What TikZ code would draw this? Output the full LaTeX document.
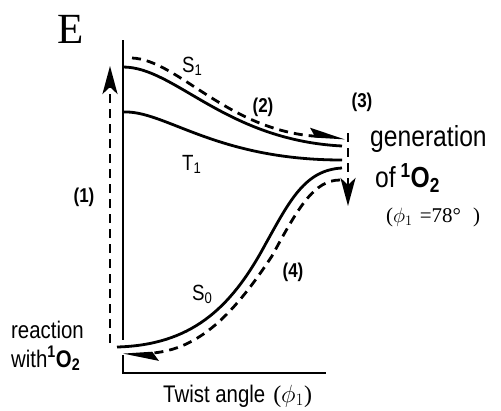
\documentclass[tikz,border=0pt]{standalone}
\usepackage{fontspec}
\newfontfamily\sfn[FakeStretch=0.85]{Liberation Sans}
\newfontfamily\rmn{Liberation Serif}
\usetikzlibrary{arrows.meta}
\begin{document}
\begin{tikzpicture}[x=1pt,y=-1pt,
  axisline/.style={line width=2.6pt},
  curve/.style={line width=2.8pt},
  dpath/.style={line width=2.8pt, dash pattern=on 9pt off 6pt},
  fulltip/.style={-{Stealth[length=28pt,width=15pt,inset=7pt]}},
  halftip/.style={-{Stealth[harpoon,length=30pt,width=16pt,inset=5pt]}},
  lab/.style={inner sep=0pt, font=\sfn\fontsize{22}{24}\selectfont},
  big/.style={inner sep=0pt, font=\sfn\fontsize{29}{31}\selectfont},
  mid/.style={inner sep=0pt, font=\sfn\fontsize{24}{26}\selectfont},
  num/.style={inner sep=0pt, font=\sfn\bfseries\fontsize{20}{22}\selectfont},
  ser/.style={inner sep=0pt, font=\rmn\fontsize{21}{23}\selectfont}]
\useasboundingbox (0,0) rectangle (501,410);

% axes
\coordinate (ytop) at (123,40);
\coordinate (ybrk1) at (123,340);
\coordinate (ybrk2) at (123,355);
\coordinate (orig) at (123,373);
\coordinate (xend) at (326,373);
\draw[axisline] (ytop) -- (ybrk1);
\draw[axisline] (ybrk2) -- (orig) -- (xend);

% curves
\coordinate (s1a) at (123,67);  \coordinate (s1b) at (342,146);
\coordinate (t1a) at (123,112); \coordinate (t1b) at (342,160);
\coordinate (s0a) at (117,347); \coordinate (s0m) at (265,245); \coordinate (s0b) at (342,168);
\draw[curve] (s1a) .. controls (175,67) and (225,140) .. (s1b);
\draw[curve] (t1a) .. controls (165,110) and (215,160) .. (t1b);
\draw[curve] (s0a) .. controls (190,345) and (230,310) .. (s0m)
                   .. controls (290,200) and (305,170) .. (s0b);

% dashed paths
\coordinate (d1a) at (110,343); \coordinate (d1b) at (110,66);
\draw[dpath, fulltip] (d1a) -- (d1b);
\coordinate (d2a) at (132,58); \coordinate (d2b) at (345,138);
\draw[dpath, halftip] (d2a) .. controls (178,60) and (228,131) .. (d2b);
\coordinate (d3a) at (348,133); \coordinate (d3b) at (348,206);
\draw[dpath, fulltip] (d3a) -- (d3b);
\coordinate (d4a) at (340,180); \coordinate (d4m) at (272,256); \coordinate (d4b) at (123,355);
\draw[dpath, halftip] (d4a) .. controls (314,180) and (298,208) .. (d4m)
                      .. controls (235,312) and (200,350) .. (d4b);

% labels
\node[inner sep=0pt, font=\rmn\fontsize{43}{45}\selectfont] (E) at (71,29) {E};
\node[lab, anchor=base west] (S1) at (182,72) {S\textsubscript{1}};
\node[lab, anchor=base west] (T1) at (182,170) {T\textsubscript{1}};
\node[lab, anchor=base west] (S0) at (192,300) {S\textsubscript{0}};
\node[num] (n1) at (84,197) {(1)};
\node[num] (n2) at (263,107) {(2)};
\node[num] (n3) at (362,102) {(3)};
\node[num] (n4) at (293,272) {(4)};
\node[big, anchor=base west] (gen) at (370,146) {generation};
\node[big, anchor=base west] (of) at (375,187) {of\,\textsuperscript{\bfseries 1}\textbf{O\textsubscript{2}}};
\node[ser, anchor=base west] (phi) at (386,222) {($\phi_1$\hspace{7pt}=78°\hspace{12pt})};
\node[mid, anchor=base west] (rea) at (11,338) {reaction};
\node[mid, anchor=base west] (wit) at (11,367) {with\textsuperscript{\bfseries 1}\textbf{O\textsubscript{2}}};
\node[inner sep=0pt, anchor=base west] (tw) at (163,402) {{\sfn\fontsize{24}{26}\selectfont Twist angle}\hspace{8pt}{\rmn\fontsize{24}{26}\selectfont($\phi_1$)}};
\end{tikzpicture}
\end{document}
